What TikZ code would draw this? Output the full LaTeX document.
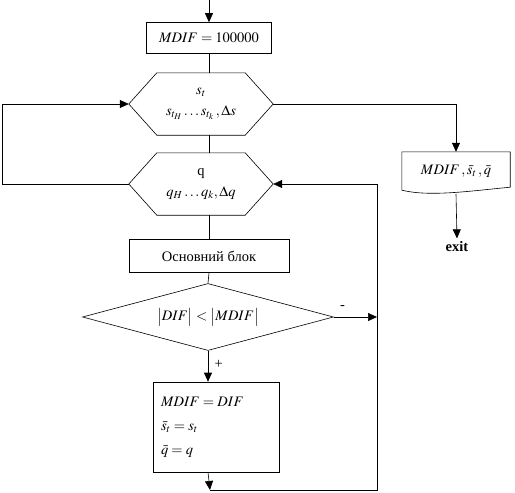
\documentclass[tikz,border=0pt]{standalone}
\usepackage{mathptmx}
\usepackage{fontspec}
\setmainfont{Liberation Serif}
\usepackage{tikz}
\usetikzlibrary{shapes.geometric, arrows.meta, positioning, calc}
\tikzset{
  lbl/.style={font=\fontsize{14.5}{17}\selectfont},
  blk/.style={draw, line width=0.6pt, inner sep=0pt, font=\fontsize{14.5}{17}\selectfont, align=center},
  hexa/.style={inner sep=0pt, minimum width=144pt, minimum height=62pt,
               font=\fontsize{14.5}{17}\selectfont, align=center},
  cond/.style={draw, diamond, line width=0.6pt, inner sep=0pt, aspect=3.75,
               minimum width=251pt, minimum height=67pt, font=\fontsize{14.5}{17}\selectfont},
  flow/.style={-{Triangle[length=9pt,width=8pt]}, line width=0.6pt},
  line/.style={line width=0.6pt},
}
\begin{document}
\begin{tikzpicture}[x=1pt, y=-1pt]
  \useasboundingbox (0,0) rectangle (515,493);
  \coordinate (top) at (209,0);
  \node[blk, minimum width=125pt, minimum height=31pt] (init) at (209,38) {$MDIF = 100000$};
  \node[hexa] (hs) at (201,104) {$s_t$\\[4pt]$s_{t_H}\ldots s_{t_k}\,,\Delta s$};
  \node[hexa] (hq) at (201,184) {q\\[4pt]$q_H\ldots q_k,\Delta q$};
  \foreach \h in {hs, hq}
    \draw[line] (\h.west) -- ([xshift=28pt]\h.north west) -- ([xshift=-28pt]\h.north east)
      -- (\h.east) -- ([xshift=-28pt]\h.south east) -- ([xshift=28pt]\h.south west) -- cycle;
  \node[blk, minimum width=160pt, minimum height=33pt] (body) at (209,256) {Основний блок};
  \node[cond] (test) at (208,317) {$\bigl|DIF\bigr| < \bigl|MDIF\bigr|$};
  \node[blk, minimum width=126pt, minimum height=90pt, align=left, text width=110pt] (upd) at (216,427)
    {$MDIF = DIF$\\[7pt]$\bar{s}_t = s_t$\\[7pt]$\bar{q} = q$};
  \coordinate (bot) at (210,490);
  \coordinate (rc) at (377,490);
  \coordinate (lc) at (2,184);
  \node[lbl, minimum width=108pt, minimum height=38pt, inner sep=0pt] (res) at (456,171) {$MDIF\,,\bar{s}_t\,,\bar{q}$};
  \draw[line] (res.south west) -- (res.north west) -- (res.north east) -- ([yshift=3pt]res.south east)
    .. controls (470,191) and (430,197) .. (res.south west);
  \node[font=\fontsize{14.5}{17}\selectfont\bfseries] (exit) at (457,247) {exit};

  \draw[flow] (top) -- (init.north);
  \draw[line] (init.south) -- (init |- hs.north);
  \draw[line] (init |- hs.south) -- (init |- hq.north);
  \draw[line] (init |- hq.south) -- (body.north);
  \draw[line] (body.south) -- (test.north);
  \draw[flow] (test.south) -- (test.south |- upd.north) node[lbl, pos=0.45, right=3pt] {+};
  \draw[flow] (test.south |- upd.south) -- (bot);
  \draw[flow] (bot) -- (rc) -- (rc |- hq.east) -- (hq.east);
  \draw[flow] (test.east) -- (test.east -| rc) node[lbl, pos=0.2, above=4pt] {-};
  \draw[flow] (hq.west) -- (lc) -- (lc |- hs.west) -- (hs.west);
  \draw[flow] (hs.east) -- (hs.east -| res) -- (res.north);
  \draw[flow] (res.south |- 0,194) -- (exit.north);
\end{tikzpicture}
\end{document}
